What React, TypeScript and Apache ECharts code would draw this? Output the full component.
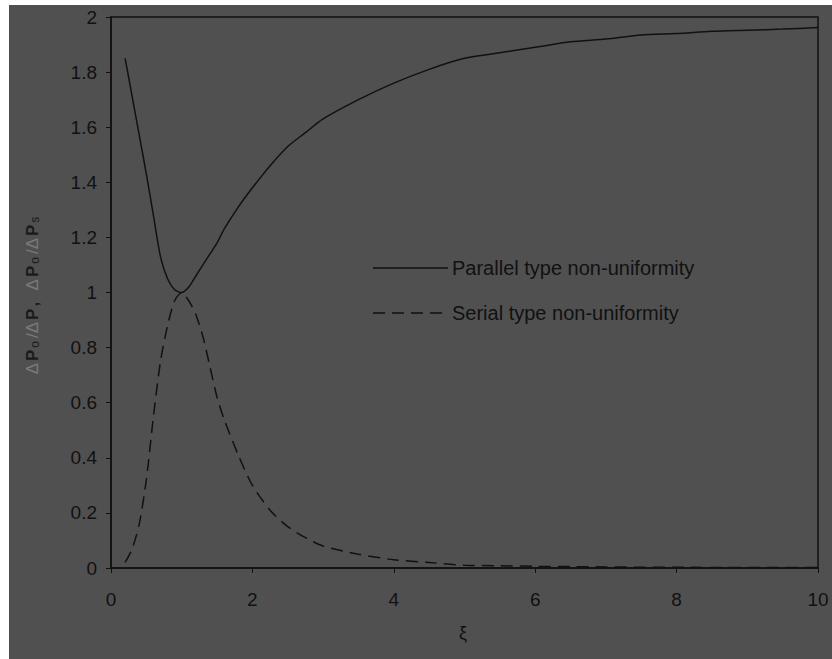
import React, { useEffect, useRef } from "react";
import * as echarts from "echarts";

// Dimensionless parameter ξ and the two pressure-drop ratios
const xi = [0.2, 0.3, 0.4, 0.5, 0.6, 0.7, 0.8, 0.9, 1.0, 1.1, 1.2, 1.3, 1.4, 1.5, 1.6, 1.8, 2.0, 2.25, 2.5, 2.75, 3.0, 3.5, 4.0, 4.5, 5.0, 5.5, 6.0, 6.5, 7.0, 7.5, 8.0, 8.5, 9.0, 9.5, 10.0];
const parallel = [1.85, 1.71, 1.57, 1.43, 1.28, 1.13, 1.05, 1.01, 1.00, 1.02, 1.06, 1.10, 1.14, 1.18, 1.23, 1.31, 1.38, 1.46, 1.53, 1.58, 1.63, 1.70, 1.76, 1.81, 1.85, 1.87, 1.89, 1.91, 1.92, 1.935, 1.94, 1.948, 1.952, 1.956, 1.962];
const serial = [0.02, 0.07, 0.16, 0.32, 0.55, 0.75, 0.88, 0.97, 1.00, 0.97, 0.92, 0.84, 0.73, 0.62, 0.54, 0.41, 0.30, 0.21, 0.15, 0.11, 0.08, 0.05, 0.03, 0.02, 0.01, 0.008, 0.006, 0.005, 0.004, 0.003, 0.003, 0.002, 0.002, 0.002, 0.002];
const seriesNames = ["Parallel type non-uniformity", "Serial type non-uniformity"];
const xTicks = { min: 0, max: 10, interval: 2 };
const yTicks = { min: 0, max: 2, interval: 0.2 };

const INK = "#111111";
const FONT = "'Liberation Sans', Arial, sans-serif";

export default function App() {
  const ref = useRef<HTMLDivElement>(null);

  useEffect(() => {
    if (!ref.current) return;
    const chart = echarts.init(ref.current, null, { renderer: "svg" });
    const pairs = (ys: number[]) => xi.map((x, i) => [x, ys[i]]);

    chart.setOption({
      animation: false,
      backgroundColor: "#505050",
      grid: {
        left: 102,
        right: 14,
        top: 12,
        bottom: 91,
        show: true,
        borderColor: INK,
        borderWidth: 1.5,
        backgroundColor: "transparent",
      },
      xAxis: {
        type: "value",
        min: xTicks.min,
        max: xTicks.max,
        interval: xTicks.interval,
        axisLine: { show: true, lineStyle: { color: INK, width: 1.5 } },
        axisTick: { show: true, length: 5, lineStyle: { color: INK } },
        axisLabel: { color: INK, fontSize: 19, fontFamily: FONT, margin: 22 },
        splitLine: { show: false },
      },
      yAxis: {
        type: "value",
        min: yTicks.min,
        max: yTicks.max,
        interval: yTicks.interval,
        axisLine: { show: true, lineStyle: { color: INK, width: 1.5 } },
        axisTick: { show: true, length: 5, lineStyle: { color: INK } },
        axisLabel: { color: INK, fontSize: 19, fontFamily: FONT, margin: 14 },
        splitLine: { show: false },
      },
      series: [
        {
          name: seriesNames[0],
          type: "line",
          data: pairs(parallel),
          smooth: 0.25,
          showSymbol: false,
          lineStyle: { color: INK, width: 1.5 },
        },
        {
          name: seriesNames[1],
          type: "line",
          data: pairs(serial),
          smooth: 0.25,
          showSymbol: false,
          lineStyle: { color: INK, width: 1.5, type: [12, 7] },
        },
      ],
      graphic: [
        // legend entries
        {
          type: "line",
          shape: { x1: 364, y1: 263, x2: 439, y2: 263 },
          style: { stroke: INK, lineWidth: 1.5 },
        },
        {
          type: "text",
          x: 443,
          y: 263,
          style: { text: seriesNames[0], fill: INK, fontSize: 20, fontFamily: FONT, verticalAlign: "middle" },
        },
        {
          type: "line",
          shape: { x1: 364, y1: 308, x2: 439, y2: 308 },
          style: { stroke: INK, lineWidth: 1.5, lineDash: [12, 7] },
        },
        {
          type: "text",
          x: 443,
          y: 308,
          style: { text: seriesNames[1], fill: INK, fontSize: 20, fontFamily: FONT, verticalAlign: "middle" },
        },
        // x-axis title
        {
          type: "text",
          x: 454,
          y: 628,
          style: { text: "ξ", fill: INK, fontSize: 18, fontFamily: FONT, align: "center", verticalAlign: "middle" },
        },
        // y-axis title
        {
          type: "text",
          x: 22,
          y: 290,
          rotation: Math.PI / 2,
          style: {
            text: "{d|Δ}{b|P}{s|o}{d|/Δ}{b|P}{b|,  }{d|Δ}{b|P}{s|o}{d|/Δ}{b|P}{s|s}",
            align: "center",
            verticalAlign: "middle",
            rich: {
              d: { fill: "#7a7a7a", fontSize: 17, fontFamily: FONT, lineHeight: 20, verticalAlign: "bottom", padding: [0, 1, 0, 1] },
              b: { fill: "#1a1a1a", fontSize: 17, fontWeight: "bold", fontFamily: FONT, lineHeight: 20, verticalAlign: "bottom", padding: [0, 1, 0, 1] },
              s: { fill: "#1a1a1a", fontSize: 12, fontFamily: FONT, lineHeight: 20, verticalAlign: "bottom", padding: [6, 2, 0, 1] },
            },
          },
        },
      ],
    });

    return () => chart.dispose();
  }, []);

  return (
    <div
      style={{ position: "fixed", left: 9, top: 5, width: 823, height: 654, background: "#505050" }}
    >
      <div ref={ref} style={{ width: 823, height: 654 }} />
    </div>
  );
}
